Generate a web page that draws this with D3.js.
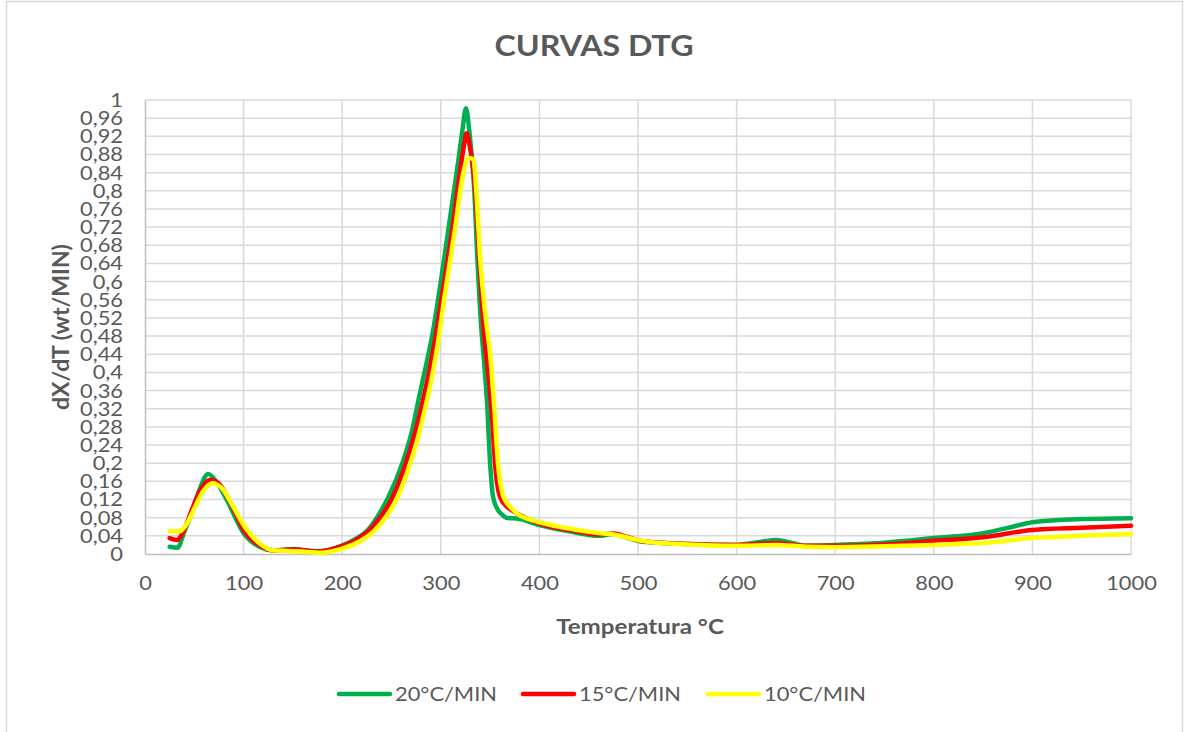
<!DOCTYPE html>
<html>
<head>
<meta charset="utf-8">
<script src="https://cdn.jsdelivr.net/npm/d3@7"></script>
<style>
  html, body { margin: 0; padding: 0; background: #fff; }
  svg { display: block; font-family: Lato, "Open Sans", sans-serif; }
</style>
</head>
<body>
<svg id="chart" width="1186" height="732"></svg>
<script>
// ---- data ----
const seriesNames = ["20°C/MIN", "15°C/MIN", "10°C/MIN"];
const seriesColors = ["#00b050", "#ff0000", "#ffff00"];

const temp20 = [25, 33, 40, 46, 55, 64, 72, 83, 100, 117, 130, 150, 175, 198, 215, 226, 238, 247, 261, 271, 278, 285, 292, 300, 310, 318, 322, 325.5, 329, 334, 337, 341, 344, 347, 350, 353, 358, 363, 368, 377, 400, 430, 460, 475, 490, 505, 550, 600, 625, 640, 655, 670, 700, 750, 800, 850, 880, 900, 950, 1000];
const dtg20 = [0.016, 0.014, 0.05, 0.082, 0.14, 0.176, 0.16, 0.119, 0.046, 0.015, 0.008, 0.011, 0.006, 0.017, 0.035, 0.053, 0.09, 0.126, 0.2, 0.273, 0.346, 0.415, 0.49, 0.6, 0.75, 0.87, 0.935, 0.982, 0.93, 0.8, 0.654, 0.5, 0.42, 0.33, 0.2, 0.126, 0.097, 0.085, 0.079, 0.078, 0.064, 0.05, 0.04, 0.044, 0.035, 0.027, 0.022, 0.02, 0.027, 0.031, 0.025, 0.018, 0.02, 0.025, 0.035, 0.046, 0.06, 0.07, 0.077, 0.079];

const temp15 = [25, 32, 40, 48, 56, 66, 75, 85, 100, 117, 130, 152, 175, 198, 215, 228, 240, 250, 263, 273, 281, 288, 294, 302, 312, 320, 323.5, 326, 330, 335, 339, 344, 348, 352, 355, 360, 367, 373, 380, 400, 430, 460, 475, 490, 505, 550, 600, 640, 670, 700, 750, 800, 850, 900, 950, 1000];
const dtg15 = [0.035, 0.031, 0.055, 0.1, 0.14, 0.163, 0.155, 0.12, 0.053, 0.018, 0.008, 0.01, 0.005, 0.016, 0.032, 0.053, 0.085, 0.12, 0.19, 0.26, 0.33, 0.4, 0.47, 0.58, 0.72, 0.85, 0.9, 0.927, 0.89, 0.8, 0.654, 0.48, 0.4, 0.3, 0.2, 0.126, 0.104, 0.095, 0.086, 0.067, 0.053, 0.043, 0.045, 0.037, 0.028, 0.022, 0.02, 0.024, 0.018, 0.018, 0.021, 0.029, 0.037, 0.053, 0.058, 0.062];

const temp10 = [25, 35, 42, 50, 58, 68, 78, 88, 100, 117, 130, 155, 178, 200, 218, 232, 244, 254, 266, 276, 284, 291, 296, 304, 314, 322, 328, 333, 336, 340, 345, 350, 354, 358, 363, 372, 380, 390, 400, 430, 460, 478, 495, 510, 550, 600, 640, 670, 700, 750, 800, 850, 900, 950, 1000];
const dtg10 = [0.05, 0.05, 0.065, 0.1, 0.135, 0.156, 0.145, 0.11, 0.064, 0.022, 0.008, 0.006, 0.003, 0.012, 0.028, 0.05, 0.08, 0.115, 0.18, 0.25, 0.32, 0.39, 0.45, 0.57, 0.71, 0.83, 0.872, 0.87, 0.8, 0.65, 0.53, 0.44, 0.33, 0.2, 0.13, 0.1, 0.085, 0.076, 0.07, 0.056, 0.046, 0.042, 0.033, 0.027, 0.021, 0.018, 0.02, 0.016, 0.015, 0.017, 0.02, 0.024, 0.035, 0.04, 0.044];

const xTicks = [0, 100, 200, 300, 400, 500, 600, 700, 800, 900, 1000];
const yTicks = d3.range(0, 26).map(i => +(i * 0.04).toFixed(2));

const chartTitle = "CURVAS DTG";
const xTitle = "Temperatura °C";
const yTitle = "dX/dT (wt/MIN)";

// ---- layout ----
const plot = { left: 145, right: 1131, top: 100, bottom: 554 };
const textColor = "#595959";
const SX = 1.15; // horizontal text stretch seen in the reference

const svg = d3.select("#chart");

svg.append("rect")
  .attr("x", 6.5).attr("y", 1.5)
  .attr("width", 1176).attr("height", 740)
  .attr("fill", "#fff").attr("stroke", "#d9d9d9").attr("stroke-width", 1.5);

const x = d3.scaleLinear().domain([0, 1000]).range([plot.left, plot.right]);
const y = d3.scaleLinear().domain([0, 1]).range([plot.bottom, plot.top]);

function stretched(sel, px, py) {
  return sel.attr("x", 0).attr("y", 0)
    .attr("transform", `translate(${px},${py}) scale(${SX},1)`);
}

// gridlines
const grid = svg.append("g");
grid.selectAll("line.h").data(yTicks.filter(v => v > 0)).join("line")
  .attr("x1", plot.left).attr("x2", plot.right)
  .attr("y1", d => y(d)).attr("y2", d => y(d))
  .attr("stroke", "#d9d9d9").attr("stroke-width", 1.5);
grid.selectAll("line.v").data(xTicks.filter(v => v > 0)).join("line")
  .attr("y1", plot.top).attr("y2", plot.bottom)
  .attr("x1", d => x(d)).attr("x2", d => x(d))
  .attr("stroke", "#d9d9d9").attr("stroke-width", 1.5);

// axes
const fmt = v => String(+v.toFixed(2)).replace(".", ",");
const xAxis = svg.append("g")
  .attr("transform", `translate(0,${plot.bottom})`)
  .call(d3.axisBottom(x).tickValues(xTicks).tickSize(0).tickPadding(24).tickFormat(d => d));
xAxis.select(".domain").attr("stroke", "#bfbfbf").attr("stroke-width", 1.5);
xAxis.selectAll(".tick text")
  .attr("fill", textColor).attr("font-size", 19).attr("font-family", "Lato")
  .attr("dy", null)
  .each(function() { stretched(d3.select(this), 0, 24 + 0.71 * 19 - 1); });

const yAxis = svg.append("g")
  .attr("transform", `translate(${plot.left},0)`)
  .call(d3.axisLeft(y).tickValues(yTicks).tickSize(0).tickPadding(22).tickFormat(fmt));
yAxis.select(".domain").attr("stroke", "#bfbfbf").attr("stroke-width", 1.5);
yAxis.selectAll(".tick text")
  .attr("fill", textColor).attr("font-size", 19).attr("font-family", "Lato")
  .attr("dy", null)
  .each(function() { stretched(d3.select(this), -22, 0.34 * 19); });

// lines
const series = [
  { name: seriesNames[0], color: seriesColors[0], t: temp20, v: dtg20 },
  { name: seriesNames[1], color: seriesColors[1], t: temp15, v: dtg15 },
  { name: seriesNames[2], color: seriesColors[2], t: temp10, v: dtg10 }
];
const line = d3.line().x(d => x(d[0])).y(d => y(d[1])).curve(d3.curveMonotoneX);
svg.append("g").selectAll("path").data(series).join("path")
  .attr("d", s => line(s.t.map((t, i) => [t, s.v[i]])))
  .attr("fill", "none")
  .attr("stroke", s => s.color)
  .attr("stroke-width", 4.5)
  .attr("stroke-linecap", "round")
  .attr("stroke-linejoin", "round");

// titles
stretched(svg.append("text"), 594, 56)
  .attr("text-anchor", "middle")
  .attr("font-size", 28).attr("font-weight", "bold")
  .attr("fill", textColor).text(chartTitle);

stretched(svg.append("text"), 640, 634)
  .attr("text-anchor", "middle")
  .attr("font-size", 21).attr("font-weight", "bold")
  .attr("fill", textColor).text(xTitle);

svg.append("text")
  .attr("transform", `translate(69,${(plot.top + plot.bottom) / 2}) rotate(-90)`)
  .attr("text-anchor", "middle")
  .attr("font-size", 23).attr("font-weight", "bold")
  .attr("fill", textColor).text(yTitle);

// legend
const legendX = [338, 522, 707];
const lg = svg.append("g").selectAll("g").data(series).join("g")
  .attr("transform", (d, i) => `translate(${legendX[i]},694)`);
lg.append("line")
  .attr("x1", 1).attr("x2", 52).attr("y1", 0).attr("y2", 0)
  .attr("stroke", d => d.color).attr("stroke-width", 4.5).attr("stroke-linecap", "round");
lg.append("text")
  .attr("transform", `translate(57,7) scale(${SX},1)`)
  .attr("font-size", 19).attr("fill", textColor)
  .text(d => d.name);
</script>
</body>
</html>
